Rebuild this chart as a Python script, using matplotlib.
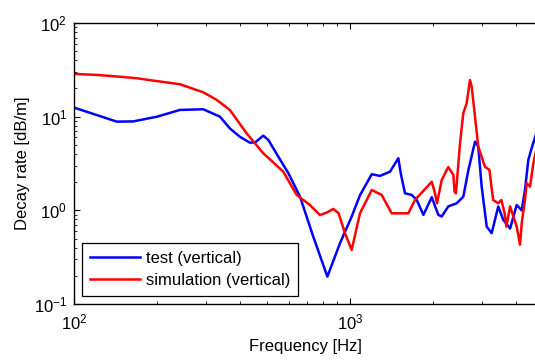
import matplotlib
matplotlib.use('Agg')
import matplotlib.pyplot as plt
from matplotlib.ticker import LogLocator, NullFormatter

plt.rcParams['font.family'] = ['Liberation Sans', 'DejaVu Sans']
plt.rcParams['mathtext.fontset'] = 'custom'
plt.rcParams['mathtext.rm'] = 'Liberation Sans'
plt.rcParams['mathtext.it'] = 'Liberation Sans'
plt.rcParams['axes.unicode_minus'] = False

# test (vertical) - frequency [Hz], decay rate [dB/m]
test_f = [100, 143, 164, 200, 242, 294, 338, 367, 399, 434, 453, 485, 506, 550,
          598, 659, 736, 828, 920, 1014, 1087, 1199, 1284, 1397, 1497, 1527,
          1582, 1674, 1745, 1845, 1978, 2090, 2150, 2270, 2436, 2574, 2686,
          2838, 2915, 3000, 3129, 3261, 3445, 3594, 3803, 4018, 4190, 4305,
          4427, 4551, 4720]
test_v = [12.5, 8.85, 8.9, 10.0, 11.8, 12.0, 10.0, 7.5, 6.1, 5.28, 5.3, 6.27,
          5.64, 3.74, 2.49, 1.40, 0.524, 0.196, 0.446, 0.857, 1.45, 2.43, 2.33,
          2.59, 3.6, 2.49, 1.52, 1.46, 1.29, 0.894, 1.38, 0.894, 0.86, 1.10,
          1.19, 1.40, 2.70, 5.41, 4.8, 1.79, 0.67, 0.57, 1.10, 0.79, 0.64,
          1.14, 1.0, 1.65, 3.45, 4.6, 6.5]

# simulation (vertical)
sim_f = [100, 121, 147, 169, 199, 242, 294, 329, 367, 422, 485, 573, 641, 716,
         778, 823, 870, 909, 959, 1014, 1087, 1199, 1302, 1416, 1627, 1720,
         1978, 2032, 2066, 2150, 2270, 2368, 2393, 2420, 2504, 2574, 2647,
         2721, 2760, 2838, 2915, 3083, 3200, 3301, 3445, 3536, 3634, 3687,
         3803, 3908, 4018, 4130, 4190, 4305, 4367, 4490, 4614, 4720]
sim_v = [28.6, 27.9, 26.7, 25.7, 24.0, 22.2, 18.2, 15.1, 11.8, 6.65, 4.07,
         2.59, 1.46, 1.14, 0.89, 0.946, 1.035, 0.93, 0.57, 0.378, 0.93, 1.65,
         1.46, 0.93, 0.93, 1.29, 2.02, 1.52, 1.19, 2.11, 2.9, 2.39, 1.58, 1.52,
         5.2, 10.9, 13.9, 24.6, 20.9, 10.0, 4.8, 2.92, 2.70, 1.29, 1.19, 1.29,
         0.93, 0.67, 1.10, 0.86, 0.67, 0.43, 0.73, 1.29, 1.95, 1.79, 3.15, 4.3]

fig = plt.figure(figsize=(5.35, 3.61), dpi=100)
# right spine sits just outside the picture, as in the cropped original
ax = fig.add_axes([74 / 535, 57 / 361, 462 / 535, 281 / 361])

ax.loglog(test_f, test_v, color='#0000ff', lw=1.8, label='test (vertical)')
ax.loglog(sim_f, sim_v, color='#ff0000', lw=1.8, label='simulation (vertical)')

ax.set_xlim(100, 4720)
ax.set_ylim(0.1, 100)
ax.set_xlabel('Frequency [Hz]', fontsize=12, labelpad=5)
ax.set_ylabel('Decay rate [dB/m]', fontsize=12, labelpad=3)

ax.xaxis.set_major_locator(LogLocator(base=10))
ax.xaxis.set_minor_locator(LogLocator(base=10, subs=range(2, 10)))
ax.xaxis.set_minor_formatter(NullFormatter())
ax.yaxis.set_minor_locator(LogLocator(base=10, subs=range(2, 10)))
ax.yaxis.set_minor_formatter(NullFormatter())
ax.tick_params(which='both', direction='in', top=True, right=False, labelsize=12)
ax.tick_params(which='major', length=4.5)
ax.tick_params(which='minor', length=2.5)
ax.tick_params(axis='x', pad=6)
ax.tick_params(axis='y', pad=5)

for s in ax.spines.values():
    s.set_linewidth(1.0)

leg = ax.legend(loc='lower left', fontsize=12, fancybox=False, framealpha=1,
                edgecolor='black', borderaxespad=0.5, handlelength=3.0,
                handletextpad=0.4, labelspacing=0.45, borderpad=0.45)
leg.get_frame().set_linewidth(0.9)

fig.savefig('out.png', dpi=100)
